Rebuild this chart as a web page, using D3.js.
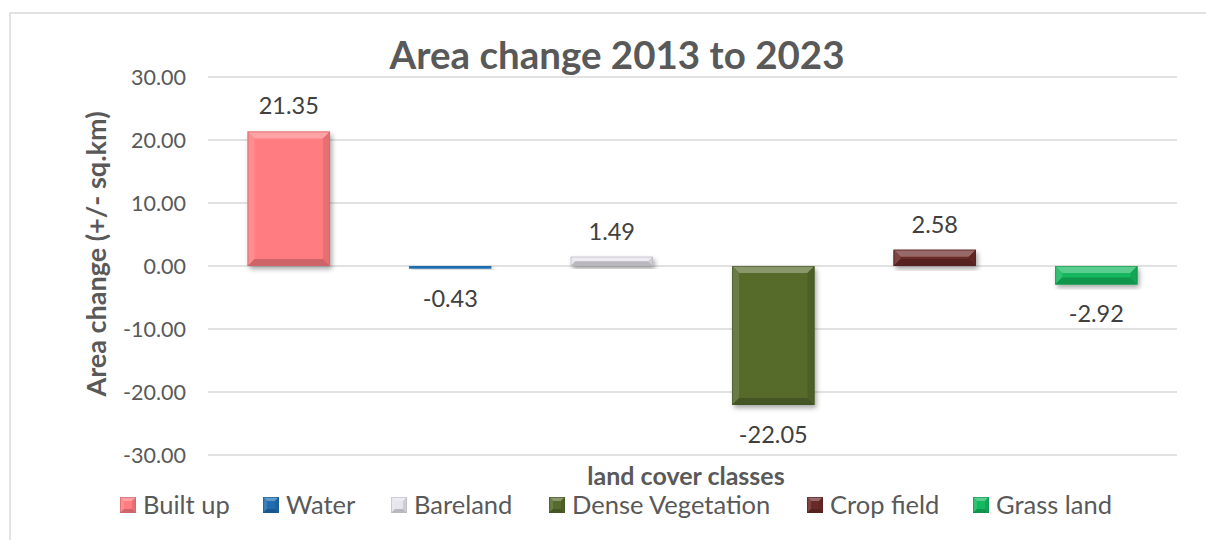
<!DOCTYPE html>
<html lang="en">
<head>
  <meta charset="UTF-8" />
  <title>Area change 2013 to 2023</title>
  <style>
    body { margin: 0; background: #fff; font-family: Lato, "Noto Sans", sans-serif; }
    svg { display: block; }
    .tick text { fill: #595959; font-size: 21.5px; }
    .grid line { stroke: #d9d9d9; stroke-width: 1.3px; }
  </style>
</head>
<body>
<svg id="chart"></svg>
<script src="https://cdn.jsdelivr.net/npm/d3@7"></script>
<script>
  const categories = ["Built up", "Water", "Bareland", "Dense Vegetation", "Crop field", "Grass land"];
  const values = [21.35, -0.43, 1.49, -22.05, 2.58, -2.92];
  const colors = ["#ff7c80", "#1f6db0", "#e6e4ec", "#566a2c", "#6a2a28", "#14b85e"];
  const yTicks = [30, 20, 10, 0, -10, -20, -30];

  const width = 1206, height = 540;
  const margin = { left: 208, right: 29, top: 77, bottom: 85 };

  const fmt = d3.formatLocale({ decimal: ".", thousands: ",", grouping: [3], currency: ["", ""], minus: "-" }).format(".2f");

  const svg = d3.select("#chart").attr("width", width).attr("height", height);

  // chart frame
  svg.append("rect")
    .attr("x", 10).attr("y", 13)
    .attr("width", 1220).attr("height", 560)
    .attr("fill", "none").attr("stroke", "#d9d9d9").attr("stroke-width", 1.5);

  const defs = svg.append("defs");
  defs.append("filter").attr("id", "shadow")
    .attr("x", "-20%").attr("y", "-20%").attr("width", "150%").attr("height", "150%")
    .append("feDropShadow")
    .attr("dx", 2).attr("dy", 3).attr("stdDeviation", 2.5)
    .attr("flood-color", "#000").attr("flood-opacity", 0.35);

  const x = d3.scaleBand().domain(categories)
    .range([margin.left, width - margin.right]).paddingInner(0.49).paddingOuter(0.245);
  const y = d3.scaleLinear().domain([-30, 30]).range([height - margin.bottom, margin.top]);

  // gridlines
  svg.append("g").attr("class", "grid")
    .selectAll("line").data(yTicks).enter().append("line")
    .attr("x1", margin.left).attr("x2", width - margin.right)
    .attr("y1", d => y(d)).attr("y2", d => y(d));

  // y axis labels
  const yAxis = svg.append("g")
    .attr("transform", `translate(${margin.left - 22},0)`)
    .call(d3.axisLeft(y).tickValues(yTicks).tickFormat(fmt).tickSize(0).tickPadding(0));
  yAxis.select(".domain").remove();
  yAxis.selectAll("text").attr("dy", "0.35em").style("font-family", "Lato, sans-serif");

  // bevelled box like Excel's "angle" bevel
  function bevelBox(g, x0, y0, w, h, color, b) {
    const c = d3.color(color);
    const light = d3.interpolateRgb(color, "#fff")(0.3);
    const lighter = d3.interpolateRgb(color, "#fff")(0.12);
    const dark = c.darker(0.6).formatHex();
    const darker = c.darker(0.3).formatHex();
    const bb = Math.min(b, h / 2, w / 2);
    g.append("rect").attr("x", x0).attr("y", y0).attr("width", w).attr("height", h)
      .attr("fill", color).attr("filter", "url(#shadow)");
    if (h < 4) return;
    const x1 = x0 + w, y1 = y0 + h;
    const polys = [
      [[x0, y0], [x1, y0], [x1 - bb, y0 + bb], [x0 + bb, y0 + bb], light],
      [[x0, y0], [x0 + bb, y0 + bb], [x0 + bb, y1 - bb], [x0, y1], lighter],
      [[x1, y0], [x1, y1], [x1 - bb, y1 - bb], [x1 - bb, y0 + bb], darker],
      [[x0, y1], [x0 + bb, y1 - bb], [x1 - bb, y1 - bb], [x1, y1], dark]
    ];
    g.selectAll(null).data(polys).enter().append("polygon")
      .attr("points", d => d.slice(0, 4).map(p => p.join(",")).join(" "))
      .attr("fill", d => d[4]);
    g.append("rect").attr("x", x0 + 0.5).attr("y", y0 + 0.5).attr("width", w - 1).attr("height", h - 1)
      .attr("fill", "none").attr("stroke", dark).attr("stroke-opacity", 0.6).attr("stroke-width", 1);
  }

  const bars = svg.append("g");
  categories.forEach((cat, i) => {
    const v = values[i];
    const top = y(Math.max(0, v)), bot = y(Math.min(0, v));
    bevelBox(bars.append("g"), x(cat), top, x.bandwidth(), bot - top, colors[i], 7);
  });

  // data labels
  svg.append("g").selectAll("text").data(values).enter().append("text")
    .attr("x", (d, i) => x(categories[i]) + x.bandwidth() / 2)
    .attr("y", d => d >= 0 ? y(d) - 17 : y(d) + 38)
    .attr("text-anchor", "middle")
    .attr("fill", "#404040")
    .style("font-size", "23.5px")
    .text(d => fmt(d));

  // title
  svg.append("text")
    .attr("x", 617).attr("y", 69)
    .attr("text-anchor", "middle")
    .attr("fill", "#595959")
    .style("font-size", "38.5px").style("font-weight", "bold")
    .text("Area change 2013 to 2023");

  // axis titles
  svg.append("text")
    .attr("transform", `translate(106,254) rotate(-90)`)
    .attr("text-anchor", "middle")
    .attr("fill", "#595959")
    .style("font-size", "27px").style("font-weight", "bold")
    .text("Area change (+/- sq.km)");

  svg.append("text")
    .attr("x", 686).attr("y", 485)
    .attr("text-anchor", "middle")
    .attr("fill", "#595959")
    .style("font-size", "25px").style("font-weight", "bold")
    .text("land cover classes");

  // legend
  const legendX = [120, 263, 391, 549, 807, 973];
  const legend = svg.append("g");
  categories.forEach((cat, i) => {
    const g = legend.append("g");
    bevelBox(g, legendX[i], 497, 16, 16, colors[i], 4);
    g.select("rect").attr("filter", null);
    g.append("text")
      .attr("x", legendX[i] + 23).attr("y", 514)
      .attr("fill", "#595959")
      .style("font-size", "25.5px")
      .text(cat);
  });
</script>
</body>
</html>
